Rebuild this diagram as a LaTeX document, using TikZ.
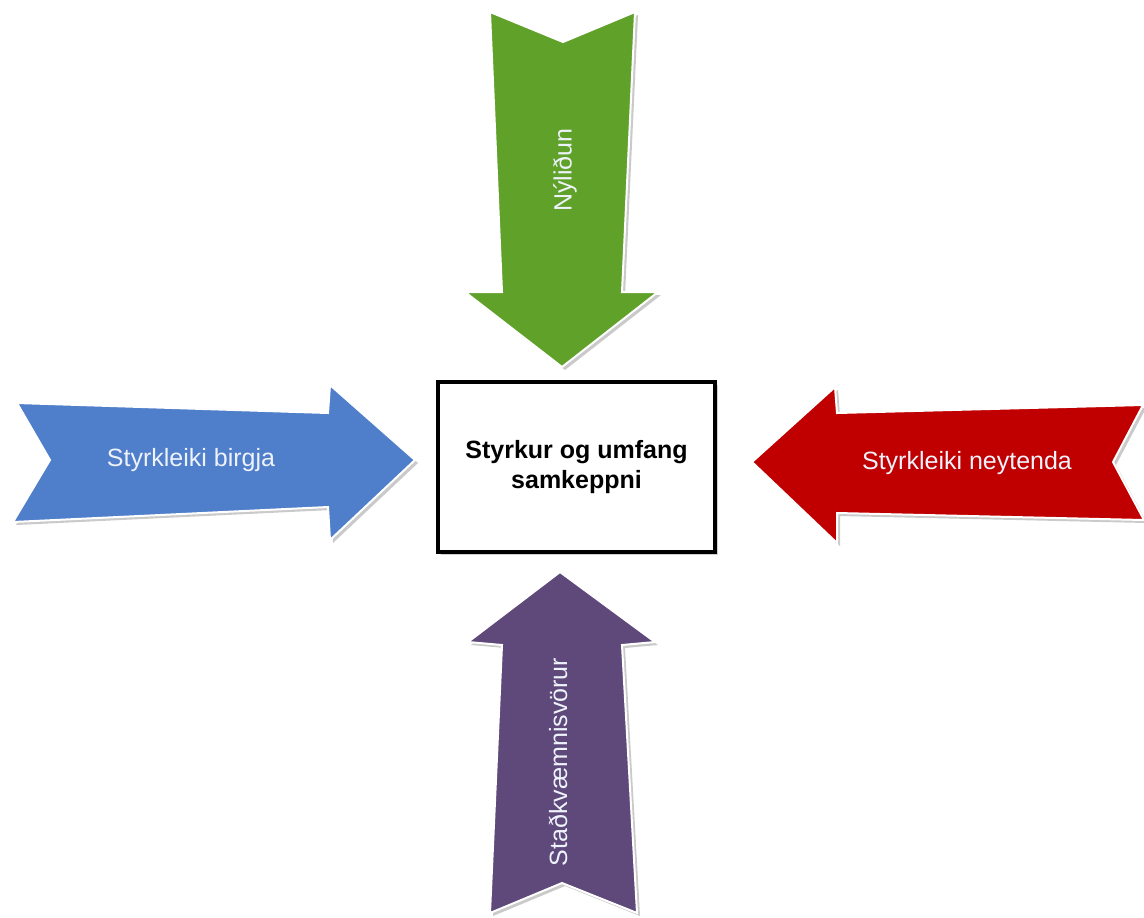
\documentclass[tikz,border=0pt]{standalone}
\usepackage{fontspec}
\setmainfont{Liberation Sans}
\usetikzlibrary{shadows}
\definecolor{cgreen}{RGB}{96,161,42}
\definecolor{cblue}{RGB}{79,126,203}
\definecolor{cred}{RGB}{192,0,0}
\definecolor{cpurple}{RGB}{94,73,122}
\definecolor{ctext}{RGB}{238,242,250}
\tikzset{
  arrowshape/.style={draw=white, line width=1pt, line join=miter,
    drop shadow={shadow xshift=1.5pt, shadow yshift=-1.5pt, opacity=0.35, fill=black!60}},
  lbl/.style={text=ctext, font=\fontsize{12.5}{15}\selectfont, inner sep=0pt},
  centerbox/.style={draw=black, line width=1.6pt, fill=white, minimum width=138.5pt, minimum height=85pt,
    align=center, font=\bfseries\fontsize{12.5}{15}\selectfont,
    drop shadow={shadow xshift=1.5pt, shadow yshift=-1.5pt, opacity=0.3, fill=black!60}}
}
\begin{document}
\begin{tikzpicture}[x=0.5pt, y=-0.5pt]
\useasboundingbox (0,0) rectangle (1144,917);
% green (top, pointing down)
\path[arrowshape, fill=cgreen] (490,12) -- (563,42) -- (635,12) -- (622,292) -- (658,292) -- (562,367) -- (465,292) -- (502,292) -- cycle;
% blue (left, pointing right)
\path[arrowshape, fill=cblue] (17,403) -- (328,413) -- (330,385) -- (415,460) -- (330,540) -- (328,507) -- (13,522) -- (50,460) -- cycle;
% red (right, pointing left)
\path[arrowshape, fill=cred] (1143,405) -- (837,413) -- (835,387) -- (752,462) -- (837,543) -- (837,513) -- (1144,520) -- (1113,462) -- cycle;
% purple (bottom, pointing up)
\path[arrowshape, fill=cpurple] (560,572) -- (655,642) -- (622,645) -- (637,913) -- (562,883) -- (490,913) -- (502,645) -- (468,642) -- cycle;
% labels
\node[lbl, rotate=90] (nyl) at (565,170) {Nýliðun};
\node[lbl] (birg) at (191,460) {Styrkleiki birgja};
\node[lbl] (neyt) at (967,463) {Styrkleiki neytenda};
\node[lbl, rotate=90] (stad) at (558,762) {Staðkvæmnisvörur};
% centre box
\node[centerbox] (box) at (576.5,467) {Styrkur og umfang\\samkeppni};
\end{tikzpicture}
\end{document}
